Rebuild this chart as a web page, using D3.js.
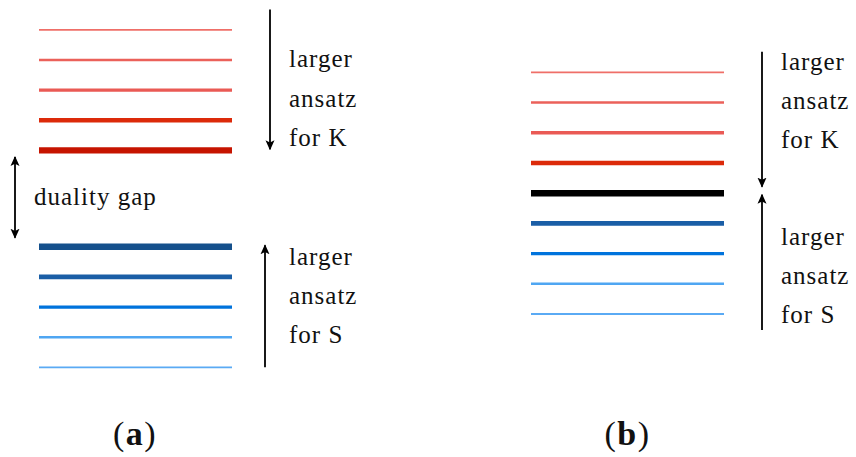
<!DOCTYPE html>
<html><head><meta charset="utf-8">
<script src="https://cdn.jsdelivr.net/npm/d3@7"></script>
<style>body{margin:0;background:#fff}svg{display:block}
text{font-family:"Liberation Serif","DejaVu Serif",serif}</style>
</head><body><svg id="c" width="856" height="457"></svg>
<script>
// ---------- data ----------
// Panel (a): bounds from ansatz for K (upper) and S (lower), with ansatz size order
const aKValues = [11.2, 10.2, 9.2, 8.2, 7.2];
const aKOrder  = [1, 2, 3, 4, 5];
const aSValues = [4, 3, 2, 1, 0];
const aSOrder  = [5, 4, 3, 2, 1];
// Panel (b): bounds converge on the exact value
const bKValues = [8, 7, 6, 5];
const bKOrder  = [1, 2, 3, 4];
const bExactValue = [4];
const bSValues = [3, 2, 1, 0];
const bSOrder  = [4, 3, 2, 1];
const panelLabels = ["a", "b"];
const textK = ["larger", "ansatz", "for K"];
const textS = ["larger", "ansatz", "for S"];
const gapLabel = "duality gap";

// ---------- styles ----------
const redByOrder  = d3.scaleOrdinal([1,2,3,4,5], ["#ef6f68","#eb615a","#ea5a55","#dc2a0a","#c61400"]);
const blueByOrder = d3.scaleOrdinal([1,2,3,4,5], ["#5aaaf4","#4fa6f2","#0073dc","#1a5ea6","#15508c"]);
const widthByOrder = d3.scaleLinear().domain([1,2,3,4,5]).range([1.8,2.5,3.3,4.6,6.3]);
const FS = 25, LS = 1.0;

const svg = d3.select("#c");
const defs = svg.append("defs");
function marker(id, orient) {
  defs.append("marker").attr("id", id).attr("viewBox", "0 0 10 10")
    .attr("refX", 9).attr("refY", 5).attr("markerUnits", "userSpaceOnUse")
    .attr("markerWidth", 10).attr("markerHeight", 10).attr("orient", orient)
    .append("path").attr("d", "M0,0.5 L10,5 L0,9.5 L2.2,5 Z").attr("fill", "#000");
}
marker("head", "auto");
marker("headStart", "auto-start-reverse");

function arrow(x, y1, y2, both) {
  const l = svg.append("line").attr("x1", x).attr("x2", x).attr("y1", y1).attr("y2", y2)
    .attr("stroke", "#000").attr("stroke-width", 1.8).attr("marker-end", "url(#head)");
  if (both) l.attr("marker-start", "url(#headStart)");
}
function textBlock(x, y0, lines, dy) {
  svg.append("g").selectAll("text").data(lines).join("text")
    .attr("x", x).attr("y", (d, i) => y0 + i * dy)
    .attr("font-size", FS).attr("letter-spacing", LS)
    .attr("fill", "#111").text(d => d);
}
function levels(xs, ys, values, orders, colorScale) {
  svg.append("g").selectAll("line").data(values.map((v, i) => ({v, o: orders[i]}))).join("line")
    .attr("x1", xs(0)).attr("x2", xs(1))
    .attr("y1", d => ys(d.v)).attr("y2", d => ys(d.v))
    .attr("stroke", d => colorScale(d.o)).attr("stroke-width", d => widthByOrder(d.o));
}

// ---------- panel (a) ----------
const xA = d3.scaleLinear().domain([0, 1]).range([39, 232]);
const yA = d3.scaleLinear().domain([0, 11.2]).range([367.3, 29.8]);
levels(xA, yA, aKValues, aKOrder, redByOrder);
levels(xA, yA, aSValues, aSOrder, blueByOrder);
arrow(270, yA(11.87), yA(d3.min(aKValues)) - 1);
arrow(265, yA(d3.min(aSValues)), yA(d3.max(aSValues)) - 1.5);
arrow(15, yA(6.98), yA(4.3), true);
svg.append("text").attr("x", 34).attr("y", 205)
  .attr("font-size", FS).attr("letter-spacing", LS).attr("fill", "#111").text(gapLabel);
textBlock(289, 67, textK, 39.5);
textBlock(289, 265, textS, 39);

// ---------- panel (b) ----------
const xB = d3.scaleLinear().domain([0, 1]).range([531, 724]);
const yB = d3.scaleLinear().domain([0, 8]).range([314, 72.3]);
levels(xB, yB, bKValues, bKOrder, redByOrder);
levels(xB, yB, bSValues, bSOrder, blueByOrder);
svg.append("g").selectAll("line").data(bExactValue).join("line")
  .attr("x1", xB(0)).attr("x2", xB(1)).attr("y1", d => yB(d)).attr("y2", d => yB(d))
  .attr("stroke", "#000").attr("stroke-width", 6.5);
arrow(762, yB(8.68), yB(bExactValue[0]) - 6.5);
arrow(762, yB(-0.53), yB(bExactValue[0]) + 1.5);
textBlock(781, 70, textK, 39);
textBlock(781, 245, textS, 39);

// ---------- panel labels ----------
const labelX = [135, 627.5];
panelLabels.forEach((lab, i) => {
  const t = svg.append("text").attr("x", labelX[i]).attr("y", 445).attr("text-anchor", "middle")
    .attr("font-size", 34).attr("letter-spacing", 1.5).attr("fill", "#111");
  t.append("tspan").text("(");
  t.append("tspan").attr("font-weight", "bold").text(lab);
  t.append("tspan").text(")");
});
</script></body></html>
